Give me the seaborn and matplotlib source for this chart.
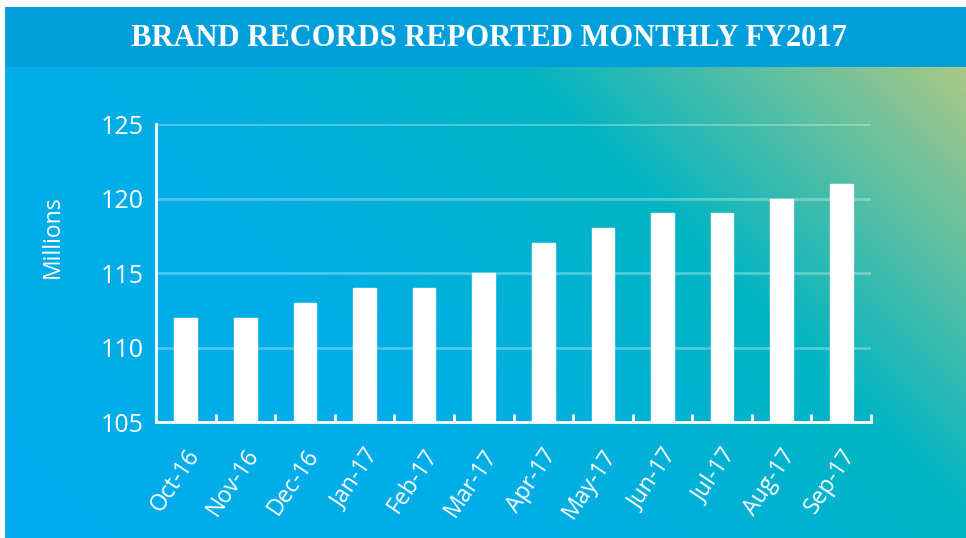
import numpy as np
import pandas as pd
import matplotlib
matplotlib.use('Agg')
import matplotlib.pyplot as plt
import matplotlib.transforms as mtrans
import seaborn as sns
from matplotlib.colors import LinearSegmentedColormap
from matplotlib.patches import Rectangle

months = ['Oct-16', 'Nov-16', 'Dec-16', 'Jan-17', 'Feb-17', 'Mar-17',
          'Apr-17', 'May-17', 'Jun-17', 'Jul-17', 'Aug-17', 'Sep-17']
records = [112, 112, 113, 114, 114, 115, 117, 118, 119, 119, 120, 121]
y_ticks = [105, 110, 115, 120, 125]

df = pd.DataFrame({'month': months, 'records': records})

sns.set_style('white')
plt.rcParams['font.family'] = ['Open Sans', 'DejaVu Sans']

W, H = 966, 538
fig = plt.figure(figsize=(W / 100, H / 100), dpi=100, facecolor='white')

# background: title band + diagonal gradient
bg = fig.add_axes([0, 0, 1, 1], zorder=-10)
bg.axis('off')
xx, yy = np.meshgrid(np.arange(5, W), np.arange(67, H))
t = (xx - yy).astype(float)
t = (t + 550) / (900 + 550)
cmap = LinearSegmentedColormap.from_list('bg', [
    (0.0, '#00acec'), (550 / 1450, '#00aee8'), (1000 / 1450, '#00b5c3'), (1.0, '#aac886')])
bg.imshow(t, cmap=cmap, vmin=0, vmax=1, extent=(5, W, H, 67), aspect='auto', interpolation='bilinear')
bg.add_patch(Rectangle((5, 7), W - 5, 60, color='#009fdb', lw=0))
bg.set_xlim(0, W)
bg.set_ylim(H, 0)

fig.text(0.506, 0.928, 'BRAND RECORDS REPORTED MONTHLY FY2017', color='white',
         fontsize=22, fontweight='bold', family=['Liberation Serif', 'DejaVu Serif'],
         ha='center', va='center')

ax = fig.add_axes([0.1615, 0.2156, 0.7402, 0.5539])
ax.patch.set_alpha(0)
sns.barplot(data=df, x='month', y='records', color='white', saturation=1, width=0.38, ax=ax)
ax.set_ylim(105, 125)
ax.set_xlim(-0.5, 11.5)
ax.set_yticks(y_ticks)
ax.set_xlabel('')
ax.set_ylabel('')
ax.set_axisbelow(True)
ax.yaxis.grid(True, color='white', alpha=0.3, lw=2)
ax.xaxis.grid(False)

for s in ['top', 'right']:
    ax.spines[s].set_visible(False)
for s in ['left', 'bottom']:
    ax.spines[s].set_color('white')
    ax.spines[s].set_linewidth(2)

ax.tick_params(axis='y', length=0, pad=9, labelsize=18, labelcolor='white')
ax.tick_params(axis='x', which='major', length=0, pad=21, labelsize=16.5, labelcolor='white')
ax.set_xticks(np.arange(0.5, 12, 1), minor=True)
ax.tick_params(axis='x', which='minor', bottom=True, direction='in', length=6, width=2, color='white')
shift = mtrans.ScaledTranslation(9 / 100, 0, fig.dpi_scale_trans)
for lab in ax.get_xticklabels():
    lab.set_rotation(56)
    lab.set_ha('right')
    lab.set_va('center')
    lab.set_rotation_mode('anchor')
    lab.set_transform(lab.get_transform() + shift)

fig.text(0.055, 0.5595, 'Millions', color='white', fontsize=16.5, rotation=90,
         ha='center', va='center')

fig.savefig('out.png', dpi=100, facecolor='white')
